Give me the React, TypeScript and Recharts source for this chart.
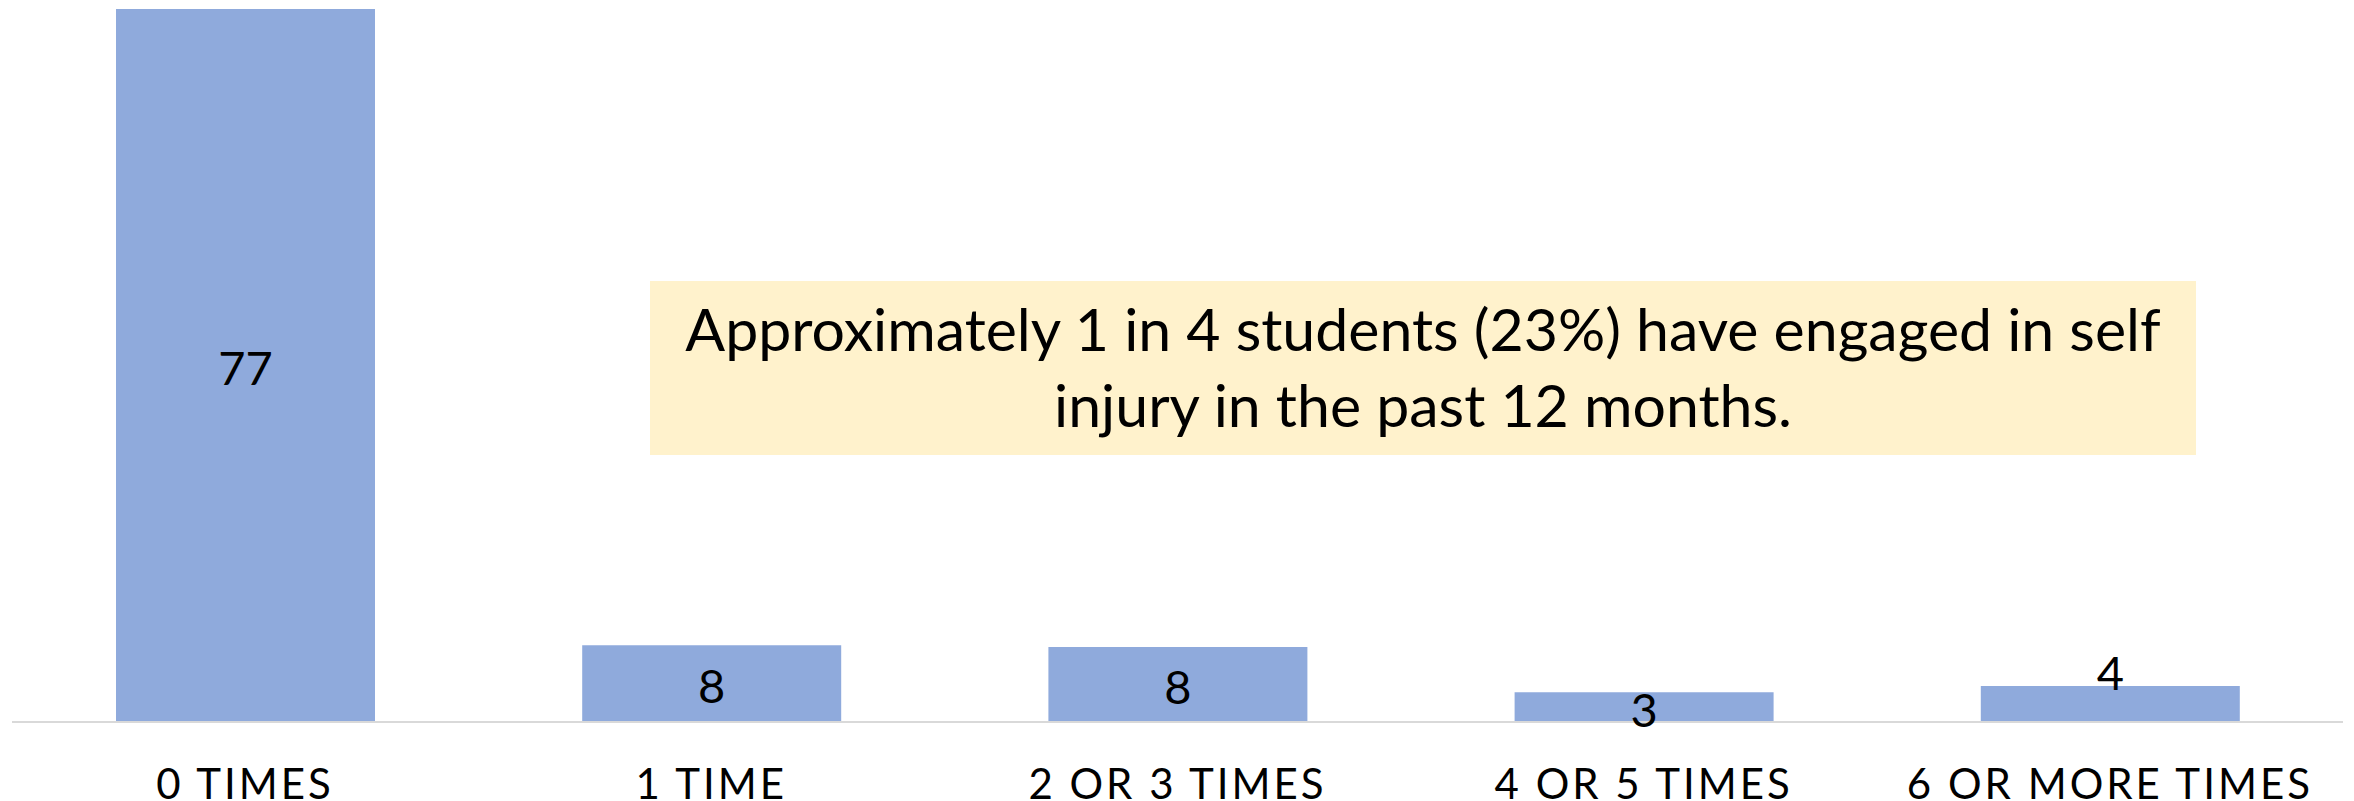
import { BarChart, Bar, XAxis, YAxis, LabelList } from 'recharts';

const CATEGORIES = ['0 TIMES', '1 TIME', '2 OR 3 TIMES', '4 OR 5 TIMES', '6 OR MORE TIMES'];
const PERCENTS = [77, 8.3, 8.1, 3.2, 3.9];
const NOTE_LINES = [
  'Approximately 1 in 4 students (23%) have engaged in self',
  'injury in the past 12 months.',
];

// label placement per bar (last one sits on top of its bar)
const LABEL_AT_TOP = [false, false, false, false, true];

const W = 2354;
const H = 801;
const FONT = 'Lato, "Open Sans", sans-serif';
const BAR_COLOR = '#8FAADC';

const data = CATEGORIES.map((name, i) => ({ name, value: PERCENTS[i] }));

function CategoryTick(props: any) {
  const { x, y, payload } = props;
  return (
    <text
      x={x}
      y={y}
      dy={77}
      textAnchor="middle"
      fill="#000"
      style={{ fontFamily: FONT, fontSize: 42, letterSpacing: 3 }}
    >
      {payload.value}
    </text>
  );
}

function ValueLabel(props: any) {
  const { x, y, width, height, value, index } = props;
  const fs = 47;
  const cx = x + width / 2;
  const cy = LABEL_AT_TOP[index] ? y - 16 : y + height / 2;
  return (
    <text
      x={cx}
      y={cy + fs * 0.36 + 3}
      textAnchor="middle"
      fill="#000"
      style={{ fontFamily: FONT, fontSize: fs }}
    >
      {Math.round(value)}
    </text>
  );
}

export default function App() {
  return (
    <div style={{ position: 'absolute', left: 0, top: 0, width: W, height: H, background: '#fff' }}>
      <BarChart
        width={W}
        height={H}
        data={data}
        margin={{ top: 9, right: 11, bottom: 0, left: 12 }}
      >
        <XAxis
          dataKey="name"
          height={79}
          tickLine={false}
          tickSize={0}
          tickMargin={0}
          interval={0}
          axisLine={{ stroke: '#D9D9D9', strokeWidth: 2 }}
          tick={<CategoryTick />}
        />
        <YAxis hide domain={[0, 77]} />
        <Bar dataKey="value" fill={BAR_COLOR} barSize={259} isAnimationActive={false}>
          <LabelList dataKey="value" content={<ValueLabel />} />
        </Bar>
      </BarChart>

      {/* callout box */}
      <div
        style={{
          position: 'absolute',
          left: 650,
          top: 281,
          width: 1546,
          height: 174,
          boxSizing: 'border-box',
          paddingTop: 10,
          background: '#FFF2CC',
          fontFamily: FONT,
          fontSize: 59,
          lineHeight: '76px',
          textAlign: 'center',
          color: '#000',
        }}
      >
        {NOTE_LINES.map((t) => (
          <div key={t}>{t}</div>
        ))}
      </div>
    </div>
  );
}
